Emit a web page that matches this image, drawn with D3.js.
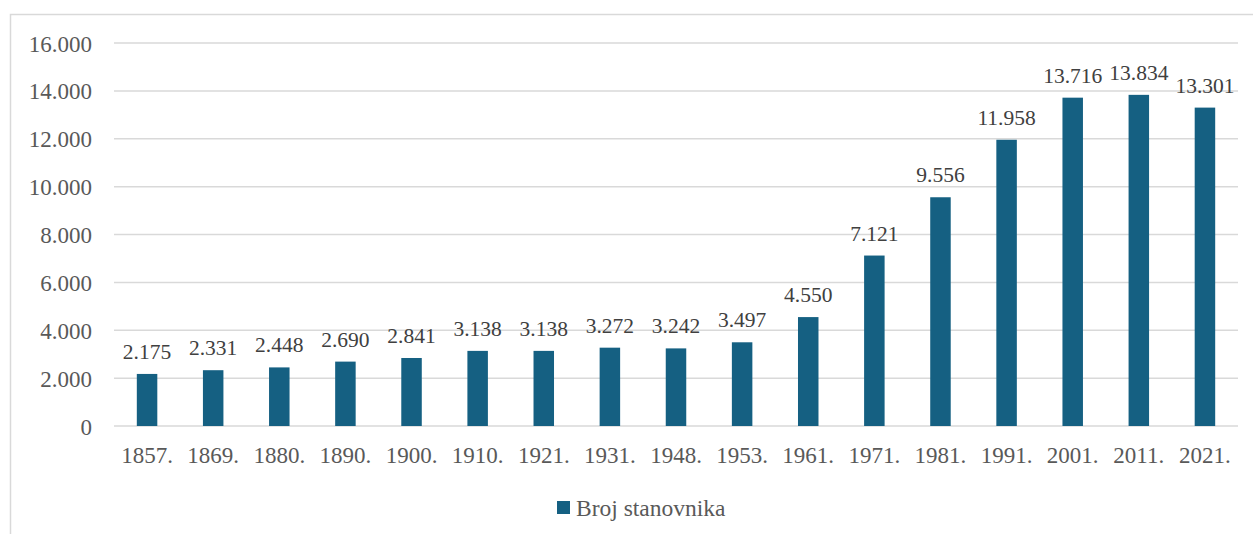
<!DOCTYPE html>
<html>
<head>
<meta charset="utf-8">
<script src="https://cdn.jsdelivr.net/npm/d3@7"></script>
<style>
  body { margin: 0; background: #fff; }
</style>
</head>
<body>
<svg id="chart" width="1253" height="534"></svg>
<script>
// census years and population
const years = ["1857.", "1869.", "1880.", "1890.", "1900.", "1910.", "1921.", "1931.", "1948.",
  "1953.", "1961.", "1971.", "1981.", "1991.", "2001.", "2011.", "2021."];
const population = [2175, 2331, 2448, 2690, 2841, 3138, 3138, 3272, 3242,
  3497, 4550, 7121, 9556, 11958, 13716, 13834, 13301];
const yTicks = [0, 2000, 4000, 6000, 8000, 10000, 12000, 14000, 16000];
const seriesName = "Broj stanovnika";

const FONT = "'Liberation Serif', 'DejaVu Serif', serif";
const svg = d3.select("#chart").attr("font-family", FONT);
const margin = { left: 114, right: 15, top: 43, bottom: 108 };
const W = 1253, H = 534;

// chart frame (cut off at right/bottom like the source)
svg.append("rect")
  .attr("x", 10.5).attr("y", 14.5)
  .attr("width", 1400).attr("height", 700)
  .attr("fill", "none").attr("stroke", "#d9d9d9").attr("stroke-width", 1.5);

const fmt = v => d3.format(",")(v).replace(/,/g, ".");

let x = d3.scaleBand()
  .domain(years)
  .range([margin.left, W - margin.right])
  .paddingInner(0.69).paddingOuter(0.345);

let y = d3.scaleLinear()
  .domain([0, 16000])
  .range([426, 43]);

// gridlines
svg.append("g")
  .selectAll("line")
  .data(yTicks)
  .enter().append("line")
  .attr("x1", margin.left).attr("x2", W - margin.right)
  .attr("y1", d => y(d)).attr("y2", d => y(d))
  .attr("stroke", "#d9d9d9").attr("stroke-width", 1.5);

// y labels
svg.append("g")
  .selectAll("text")
  .data(yTicks)
  .enter().append("text")
  .attr("x", 92).attr("y", d => y(d) + 8.5)
  .attr("text-anchor", "end")
  .attr("font-size", 23).attr("fill", "#595959")
  .text(d => fmt(d));

// bars
svg.append("g")
  .selectAll("rect")
  .data(population)
  .enter().append("rect")
  .attr("x", (d, i) => x(years[i]))
  .attr("width", x.bandwidth())
  .attr("y", d => y(d))
  .attr("height", d => y(0) - y(d))
  .attr("fill", "#156082");

// value labels
svg.append("g")
  .selectAll("text")
  .data(population)
  .enter().append("text")
  .attr("x", (d, i) => x(years[i]) + x.bandwidth() / 2)
  .attr("y", d => y(d) - 15)
  .attr("text-anchor", "middle")
  .attr("font-size", 21.5).attr("fill", "#404040")
  .text(d => fmt(d));

// x labels
svg.append("g")
  .selectAll("text")
  .data(years)
  .enter().append("text")
  .attr("x", d => x(d) + x.bandwidth() / 2)
  .attr("y", 463)
  .attr("text-anchor", "middle")
  .attr("font-size", 23).attr("fill", "#595959")
  .text(d => d);

// legend
svg.append("rect")
  .attr("x", 557).attr("y", 501).attr("width", 13).attr("height", 13)
  .attr("fill", "#156082");
svg.append("text")
  .attr("x", 576).attr("y", 516)
  .attr("font-size", 23.5).attr("fill", "#595959")
  .text(seriesName);
</script>
</body>
</html>
